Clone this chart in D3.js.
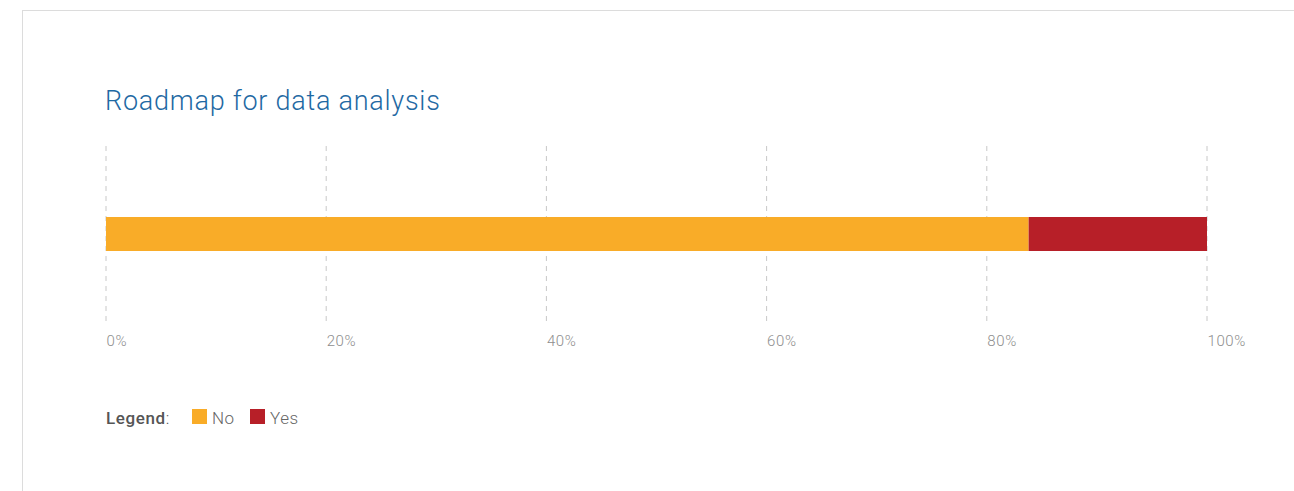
<!DOCTYPE html>
<html>
<head>
<meta charset="utf-8">
<script src="https://cdn.jsdelivr.net/npm/d3@7"></script>
<style>
  body { margin: 0; background: #fff; font-family: Roboto, "Open Sans", sans-serif; }
  #frame { position: absolute; left: 22px; top: 10px; width: 1290px; height: 500px;
           border: 1px solid #dcdcdc; box-sizing: border-box; }
</style>
</head>
<body>
<div id="frame"></div>
<div id="chart"></div>
<script>
var categories = ["Roadmap for data analysis"];
var seriesNames = ["No", "Yes"];
var noValues = [83.8];
var yesValues = [16.2];
var tickValues = [0, 20, 40, 60, 80, 100];
var colors = ["#f9ac28", "#b71f28"];

var svgWidth = 1294;
var svgHeight = 491;

var svg = d3.select("#chart")
  .append("svg")
  .attr("width", svgWidth)
  .attr("height", svgHeight)
  .style("position", "absolute")
  .style("left", 0)
  .style("top", 0);

// title
svg.append("text")
  .attr("x", 105)
  .attr("y", 110)
  .attr("fill", "#1f69a3")
  .style("font-size", "27px")
  .style("font-weight", 300)
  .style("letter-spacing", "0.75px")
  .text(categories[0]);

var xScale = d3.scaleLinear()
  .domain([0, 100])
  .range([106, 1207]);

// gridlines
svg.append("g")
  .selectAll("line")
  .data(tickValues)
  .enter()
  .append("line")
  .attr("x1", d => xScale(d))
  .attr("x2", d => xScale(d))
  .attr("y1", 146)
  .attr("y2", 322)
  .attr("stroke", "#c8c8c8")
  .attr("stroke-width", 1)
  .attr("stroke-dasharray", "5,5");

// stacked bar
var rows = categories.map((c, i) => ({ cat: c, No: noValues[i], Yes: yesValues[i] }));
var stacked = d3.stack().keys(seriesNames)(rows);

svg.append("g")
  .selectAll("g")
  .data(stacked)
  .enter()
  .append("g")
  .attr("fill", (d, i) => colors[i])
  .selectAll("rect")
  .data(d => d)
  .enter()
  .append("rect")
  .attr("x", d => xScale(d[0]))
  .attr("width", d => xScale(d[1]) - xScale(d[0]))
  .attr("y", 217)
  .attr("height", 34);

// tick labels
var bottomAxis = d3.axisBottom(xScale)
  .tickValues(tickValues)
  .tickSize(0)
  .tickFormat(d => d + "%");

var axisG = svg.append("g")
  .attr("transform", "translate(0, 335)")
  .call(bottomAxis);
axisG.select(".domain").remove();
axisG.selectAll("text")
  .attr("text-anchor", "start")
  .attr("fill", "#8e8e8e")
  .attr("dy", "0.71em")
  .attr("y", 0)
  .style("font-size", "15px")
  .style("font-weight", 300)
  .style("letter-spacing", "0.6px")
  .style("font-family", "Roboto, sans-serif");

// legend
var legend = svg.append("g");
var lt = legend.append("text")
  .attr("x", 106)
  .attr("y", 424)
  .attr("fill", "#555")
  .style("font-size", "17px")
  .style("letter-spacing", "0.6px");
lt.append("tspan").style("font-weight", 500).text("Legend");
lt.append("tspan").style("font-weight", 300).text(":");

var legendX = [192, 250];
seriesNames.forEach(function(name, i) {
  legend.append("rect")
    .attr("x", legendX[i])
    .attr("y", 409)
    .attr("width", 15)
    .attr("height", 15)
    .attr("fill", colors[i]);
  legend.append("text")
    .attr("x", legendX[i] + 20)
    .attr("y", 424)
    .attr("fill", "#666")
    .style("font-size", "17px")
    .style("font-weight", 300)
    .style("letter-spacing", "0.5px")
    .text(name);
});
</script>
</body>
</html>
